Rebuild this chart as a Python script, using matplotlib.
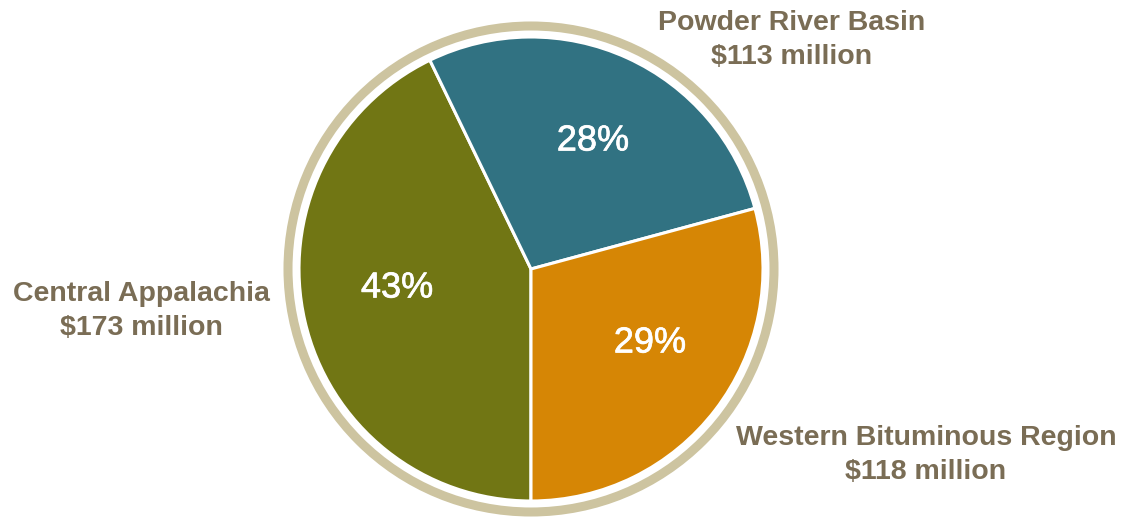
import matplotlib
matplotlib.use('Agg')
import matplotlib.pyplot as plt
import matplotlib.patheffects as pe
from matplotlib.patches import Circle

# 数据
regions = ['Central Appalachia', 'Powder River Basin', 'Western Bituminous Region']
values = [173, 113, 118]
colors = ['#717614', '#317282', '#d68605']

plt.rcParams['font.family'] = ['Liberation Sans', 'DejaVu Sans']

W, H = 1128, 519
fig = plt.figure(figsize=(W / 100, H / 100), dpi=100, facecolor='white')
ax = fig.add_axes([0, 0, 1, 1])

cx, cy = 531, H - 269
r = 232

wedges, _ = ax.pie(values, colors=colors, startangle=270, counterclock=False,
                   center=(cx, cy), radius=r,
                   wedgeprops=dict(edgecolor='white', linewidth=2.2))

# 外圈
ax.add_patch(Circle((cx, cy), 243, fill=False, edgecolor='#cdc4a0', linewidth=6.5))

# 百分比，稍微加粗一点
total = sum(values)
pct_pos = [(397, 288), (593, 141), (650, 343)]
for v, (x, y) in zip(values, pct_pos):
    ax.text(x, H - y, f'{round(v / total * 100)}%', color='white', fontsize=26,
            ha='center', va='center',
            path_effects=[pe.withStroke(linewidth=0.5, foreground='white')])

# 区域标签
label_pos = [(141, 311), (792, 40), (926, 455)]
for name, v, (x, y) in zip(regions, values, label_pos):
    ax.text(x, H - y, f'{name}\n${v} million', color='#7a6d55', fontsize=20.5,
            fontweight='bold', ha='center', va='center', linespacing=1.42)

ax.set_xlim(0, W)
ax.set_ylim(0, H)
ax.set_aspect('equal')
ax.axis('off')

plt.savefig('out.png', dpi=100, facecolor='white')
plt.close('all')
